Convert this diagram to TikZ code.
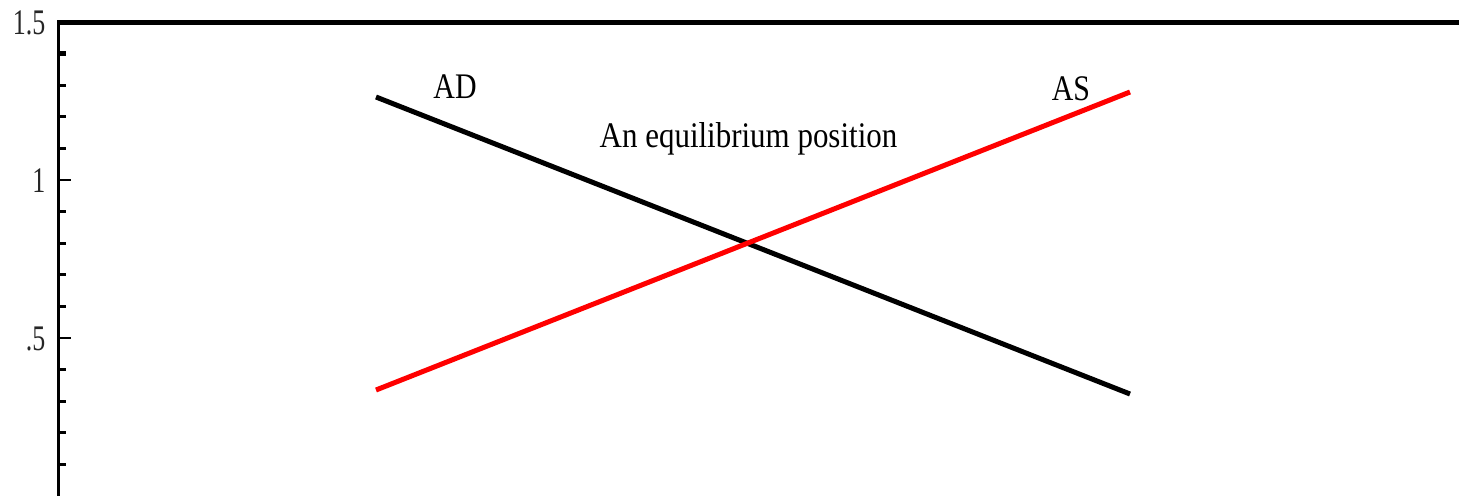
\documentclass[tikz,border=0pt]{standalone}
\usepackage{fontspec}
\setmainfont{Liberation Serif}
\tikzset{
  axisline/.style={line width=3pt, line cap=butt},
  topline/.style={line width=5pt},
  minortick/.style={line width=2.7pt},
  majortick/.style={line width=2.7pt},
  ticklabel/.style={inner sep=0pt, anchor=base east, text=black!85, font=\fontsize{36}{40}\selectfont},
  curvelabel/.style={inner sep=0pt, anchor=base, font=\fontsize{36}{40}\selectfont},
  adline/.style={line width=5pt, black},
  asline/.style={line width=5pt, red},
}
\begin{document}
\begin{tikzpicture}[x=1pt, y=-1pt]
\useasboundingbox (0,0) rectangle (1459,496);
% axes
\coordinate (axtop) at (58.7,20);
\coordinate (axbot) at (58.7,496);
\coordinate (topl) at (57.2,22.5);
\coordinate (topr) at (1459,22.5);
\draw[axisline] (axtop) -- (axbot);
\draw[topline] (topl) -- (topr);
% ticks
\foreach \v in {1,2,3,4,6,7,8,9,11,12,13,14} {
  \draw[minortick] (60,{22+\v*31.6}) -- (66,{22+\v*31.6});
}
\draw[line width=5pt] (60,53.6) -- (66,53.6);
\draw[majortick] (60,180) -- (71,180);
\draw[majortick] (60,338) -- (71,338);
% tick labels
\node[ticklabel] (l15) at (45.5,34) {\scalebox{0.72}[1]{1.5}};
\node[ticklabel] (l1) at (45.5,192.5) {\scalebox{0.72}[1]{1}};
\node[ticklabel] (l05) at (45.5,350.5) {\scalebox{0.72}[1]{.5}};
% curves
\coordinate (ad1) at (376,97);
\coordinate (ad2) at (1130,394);
\coordinate (as1) at (376,390);
\coordinate (as2) at (1130,92);
\draw[adline] (ad1) -- (ad2);
\draw[asline] (as1) -- (as2);
% labels
\node[curvelabel] (adlab) at (455,98) {\scalebox{0.83}[1]{AD}};
\node[curvelabel] (aslab) at (1071,100) {\scalebox{0.83}[1]{AS}};
\node[curvelabel] (eq) at (748.5,147) {\scalebox{0.86}[1]{An equilibrium position}};
\end{tikzpicture}
\end{document}
